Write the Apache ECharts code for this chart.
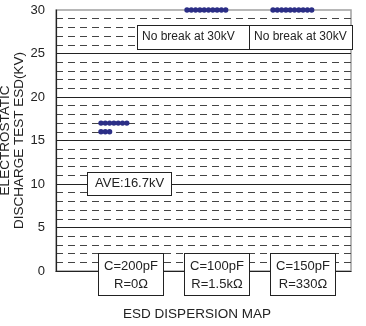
<!DOCTYPE html>
<html>
<head>
<meta charset="utf-8">
<script src="https://cdn.jsdelivr.net/npm/echarts@6/dist/echarts.min.js"></script>
<style>
  html, body { margin: 0; padding: 0; background: #fff; }
  #chart { width: 366px; height: 326px; }
</style>
</head>
<body>
<div id="chart"></div>
<script>
// Test conditions (one column per condition)
const categories = ['C=200pF\nR=0Ω', 'C=100pF\nR=1.5kΩ', 'C=150pF\nR=330Ω'];
// Dot rows: condition index, breakdown level (kV), number of samples at that level
const dotGroup = [0, 0, 1, 2];
const dotLevel = [17, 16, 30, 30];
const dotCount = [7, 3, 10, 10];
// Voltage axis
const yMin = 0, yMax = 30, yStep = 5;

const FONT = 'Arial, "Liberation Sans", sans-serif';
const DOT_COLOR = '#2b2e86';
const DOT_R = 2.7, DOT_STEP = 4.3, DOT_START = -30;

const rows = dotGroup.map((g, i) => [g, dotLevel[i], dotCount[i]]);

// Average breakdown level of the first condition
let sum = 0, n = 0;
rows.filter(r => r[0] === 0).forEach(r => { sum += r[1] * r[2]; n += r[2]; });
const aveText = 'AVE:' + (sum / n).toFixed(1) + 'kV';

const chart = echarts.init(document.getElementById('chart'), null, { renderer: 'canvas' });

const boxText = {
  fontFamily: FONT, fontSize: 12, fill: '#222',
  backgroundColor: '#fff', borderColor: '#222', borderWidth: 1
};

chart.setOption({
  animation: false,
  backgroundColor: '#fff',
  grid: [
    { left: 56, right: 15, top: 10, bottom: 55, show: true, outerBoundsMode: 'none', containLabel: false,
      borderColor: '#a0a0a0', borderWidth: 1.5, backgroundColor: 'transparent' },
    { left: 88, right: 20, top: 10, bottom: 55, outerBoundsMode: 'none', containLabel: false }
  ],
  xAxis: [
    {
      gridIndex: 0, type: 'value', min: 0, max: 1,
      axisLine: { show: true, onZero: false, lineStyle: { color: '#222', width: 1.2 } },
      axisTick: { show: false }, axisLabel: { show: false }, splitLine: { show: false }
    },
    {
      gridIndex: 1, type: 'category', data: categories, z: 10,
      axisLine: { show: false }, axisTick: { show: false }, splitLine: { show: false },
      axisLabel: {
        margin: -17, fontFamily: FONT, fontSize: 13, color: '#222', lineHeight: 18,
        backgroundColor: '#fff', borderColor: '#222', borderWidth: 1,
        padding: [3, 4, 2, 4], width: 56, align: 'center', interval: 0
      }
    }
  ],
  yAxis: [
    {
      gridIndex: 0, type: 'value', min: yMin, max: yMax, interval: yStep,
      name: 'ELECTROSTATIC\nDISCHARGE TEST ESD(KV)',
      nameLocation: 'middle', nameRotate: 90, nameGap: 30, nameMoveOverlap: false,
      nameTextStyle: { fontFamily: FONT, fontSize: 13.5, color: '#222', lineHeight: 14 },
      axisLine: { show: true, onZero: false, lineStyle: { color: '#222', width: 1.2 } },
      axisTick: { show: false },
      axisLabel: { fontFamily: FONT, fontSize: 13, color: '#222', margin: 11 },
      splitLine: { show: true, showMinLine: false, showMaxLine: false, lineStyle: { color: '#222', width: 1 } },
      minorTick: { show: false, splitNumber: 5 },
      minorSplitLine: { show: true, lineStyle: { color: '#444', width: 1, type: [7, 5] } }
    },
    {
      gridIndex: 1, type: 'value', min: yMin, max: yMax, interval: yStep, show: false
    }
  ],
  series: [
    {
      type: 'custom',
      xAxisIndex: 1, yAxisIndex: 1,
      clip: false, z: 5,
      data: rows,
      encode: { x: 0, y: 1 },
      renderItem: function (params, api) {
        const c = api.coord([api.value(0), api.value(1)]);
        const count = api.value(2);
        const children = [];
        for (let i = 0; i < count; i++) {
          children.push({
            type: 'circle',
            shape: { cx: c[0] + DOT_START + i * DOT_STEP, cy: c[1], r: DOT_R },
            style: { fill: DOT_COLOR }
          });
        }
        return { type: 'group', children: children };
      }
    }
  ],
  graphic: [
    {
      type: 'text', left: 137, top: 25, z: 20,
      style: Object.assign({}, boxText, { text: 'No break at 30kV', padding: [5, 3, 4, 4], width: 105, height: 14 })
    },
    {
      type: 'text', left: 249, top: 25, z: 21,
      style: Object.assign({}, boxText, { text: 'No break at 30kV', padding: [5, 3, 4, 4], width: 95, height: 14 })
    },
    {
      type: 'text', left: 87, top: 172, z: 20,
      style: Object.assign({}, boxText, { text: aveText, fontSize: 13, padding: [4, 6, 4, 7], width: 70, height: 14 })
    },
    {
      type: 'text', x: 197, y: 307, z: 20,
      style: { text: 'ESD DISPERSION MAP', fontFamily: FONT, fontSize: 13.5, fill: '#222', align: 'center', verticalAlign: 'top' }
    }
  ]
});
</script>
</body>
</html>
